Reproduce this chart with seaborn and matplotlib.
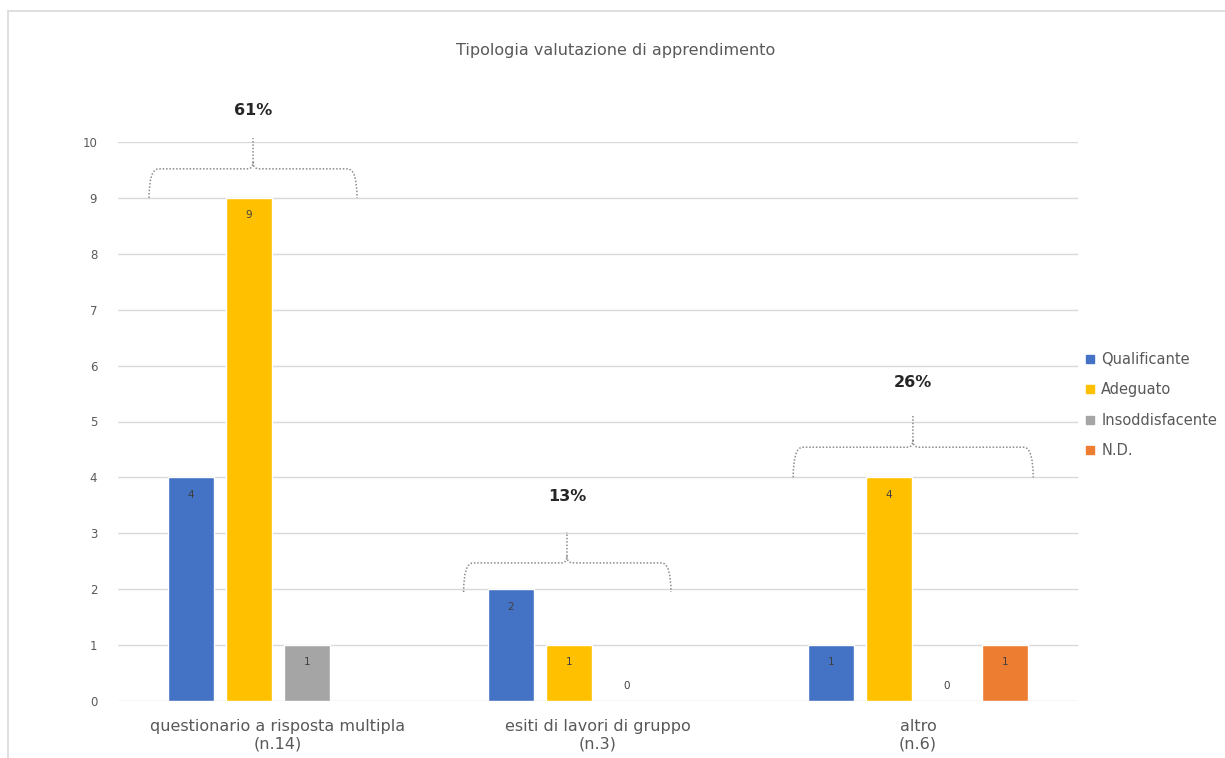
import numpy as np
import pandas as pd
import matplotlib
matplotlib.use("Agg")
import matplotlib.pyplot as plt
from matplotlib.path import Path
from matplotlib.patches import PathPatch
from matplotlib.lines import Line2D
import seaborn as sns

# --- data ---
categories = ["questionario a risposta multipla", "esiti di lavori di gruppo", "altro"]
levels = ["Qualificante", "Adeguato", "Insoddisfacente", "N.D."]
qualificante = [4, 2, 1]
adeguato = [9, 1, 4]
insoddisfacente = [1, 0, 0]
nd = [np.nan, np.nan, 1]
colors = ["#4472C4", "#FFC000", "#A5A5A5", "#ED7D31"]
title = "Tipologia valutazione di apprendimento"

series = [qualificante, adeguato, insoddisfacente, nd]
totals = [int(np.nansum(col)) for col in zip(*series)]
grand_total = sum(totals)
tick_labels = [f"{c}\n(n.{t})" for c, t in zip(categories, totals)]

rows = []
for lev, vals in zip(levels, series):
    for cat, v in zip(categories, vals):
        if not np.isnan(v):
            rows.append({"categoria": cat, "esito": lev, "valore": v})
df = pd.DataFrame(rows)

sns.set_theme(style="white")
plt.rcParams["font.family"] = ["DejaVu Sans"]

TXT = "#595959"
GRID = "#D9D9D9"

fig = plt.figure(figsize=(12.25, 7.58), dpi=100)
ax = fig.add_axes([118 / 1225, 1 - 701 / 758, 960 / 1225, 559 / 758])

sns.barplot(data=df, x="categoria", y="valore", hue="esito",
            order=categories, hue_order=levels, palette=colors,
            width=0.725, gap=0.2, dodge=True, errorbar=None,
            saturation=1, ax=ax, legend=False, zorder=3)

ax.set_ylim(0, 10)
ax.set_xlim(-0.5, 2.5)
ax.set_yticks(range(0, 11))
ax.yaxis.grid(True, color=GRID, lw=1.0, zorder=0)
ax.set_axisbelow(True)
for s in ax.spines.values():
    s.set_visible(False)
ax.tick_params(axis="y", length=0, pad=15, labelsize=8.5, labelcolor=TXT)
ax.tick_params(axis="x", length=0, pad=13, labelsize=11.5, labelcolor=TXT)
ax.set_xticks(range(len(categories)))
ax.set_xticklabels(tick_labels, linespacing=1.22)
ax.set_xlabel("")
ax.set_ylabel("")

# value labels inside bar tops (zero values just above the baseline)
for cont in ax.containers:
    for bar in cont:
        h = bar.get_height()
        if h is None or np.isnan(h):
            continue
        xc = bar.get_x() + bar.get_width() / 2
        off = -12.5 if h > 0 else 10.5
        ax.annotate(f"{int(h)}", (xc, h), xytext=(0, off), textcoords="offset points",
                    ha="center", va="center", fontsize=7.5, color="#404040", zorder=5)


def brace(ax, x0, x1, xc, yb, ym, yt, rx=0.03, ry=0.12):
    verts = [(x0, yb), (x0, ym), (x0 + rx, ym),
             (xc - rx * 0.6, ym), (xc, ym), (xc, ym + ry),
             (xc, yt),
             (xc, ym + ry), (xc, ym), (xc + rx * 0.6, ym),
             (x1 - rx, ym), (x1, ym), (x1, yb)]
    codes = [Path.MOVETO, Path.CURVE3, Path.CURVE3,
             Path.LINETO, Path.CURVE3, Path.CURVE3,
             Path.LINETO,
             Path.MOVETO, Path.CURVE3, Path.CURVE3,
             Path.LINETO, Path.CURVE3, Path.CURVE3]
    p = PathPatch(Path(verts, codes), fill=False, edgecolor="#8C8C8C",
                  lw=1.1, ls=(0, (1, 1.2)), clip_on=False, zorder=4)
    ax.add_patch(p)


# grouping braces with share of total
brace_x = [(-0.403, 0.247, -0.078), (-0.42, 0.228, -0.097), (-0.39, 0.36, -0.016)]
brace_y = [(9.0, 9.52, 10.07, 10.57), (1.95, 2.47, 3.02, 3.65), (4.0, 4.54, 5.12, 5.69)]
for i, ((x0, x1, xc), (yb, ym, yt, ytxt)) in enumerate(zip(brace_x, brace_y)):
    brace(ax, i + x0, i + x1, i + xc, yb, ym, yt)
    pct = round(100 * totals[i] / grand_total)
    ax.text(i + xc, ytxt, f"{pct}%", ha="center", va="center", fontsize=11.5,
            fontweight="bold", color="#262626", clip_on=False)

# legend
handles = [Line2D([], [], marker="s", ls="none", markersize=6, color=c) for c in colors]
fig.legend(handles, levels, loc="center left", bbox_to_anchor=(1080 / 1225, 1 - 405 / 758),
           frameon=False, fontsize=10.5, labelcolor=TXT, handlelength=0.6,
           handletextpad=0.45, labelspacing=1.05, borderaxespad=0)

fig.text(616 / 1225, 1 - 50 / 758, title, ha="center", va="center",
         fontsize=11.5, color=TXT)

# chart frame
fig.add_artist(Line2D([8 / 1225, 1.0], [1 - 11 / 758] * 2, transform=fig.transFigure,
                      color="#D9D9D9", lw=1.2))
fig.add_artist(Line2D([8 / 1225] * 2, [0, 1 - 11 / 758], transform=fig.transFigure,
                      color="#D9D9D9", lw=1.2))

fig.savefig("out.png", dpi=100, facecolor="white")
